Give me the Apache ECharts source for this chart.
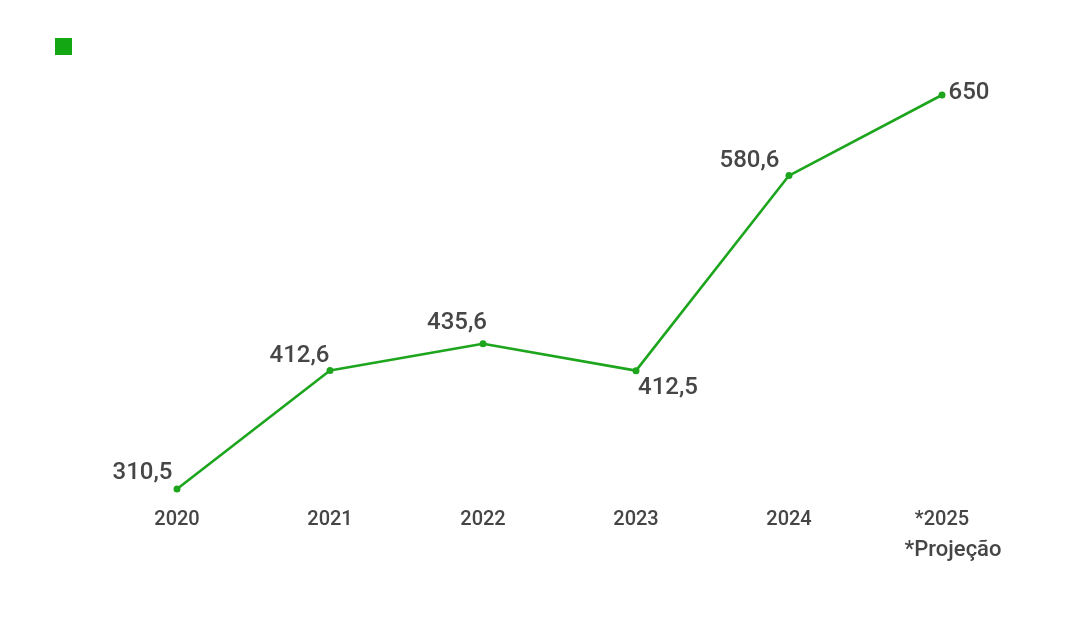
<!DOCTYPE html>
<html>
<head>
<meta charset="utf-8">
<script src="https://cdn.jsdelivr.net/npm/echarts@6/dist/echarts.min.js"></script>
<style>
html,body{margin:0;padding:0;background:#fff;}
#c{width:1083px;height:643px;}
</style>
</head>
<body>
<div id="c"></div>
<script>
const categories = ['2020', '2021', '2022', '2023', '2024', '*2025'];
const values = [310.5, 412.6, 435.6, 412.5, 580.6, 650];
const valueLabels = ['310,5', '412,6', '435,6', '412,5', '580,6', '650'];
const footnote = '*Projeção';

const labelPlacement = [
  { position: 'left', offset: [4, -16] },
  { position: 'left', offset: [8, -15] },
  { position: 'top', offset: [-26, 0] },
  { position: 'bottom', offset: [32, -3] },
  { position: 'left', offset: [-1, -15] },
  { position: 'right', offset: [-2, -2] }
];

const green = '#1ea51e';
const chart = echarts.init(document.getElementById('c'));
chart.setOption({
  backgroundColor: '#ffffff',
  animation: false,
  textStyle: { fontFamily: 'Roboto' },
  legend: {
    left: 50, top: 33, itemWidth: 17, itemHeight: 17, icon: 'rect',
    data: [' '],
    textStyle: { fontSize: 1, color: '#fff' },
    itemStyle: { color: '#13a813' }
  },
  grid: { left: 177, right: 141, top: 83.4, bottom: 141.8 },
  xAxis: {
    type: 'category',
    boundaryGap: false,
    data: categories,
    axisLine: { show: false },
    axisTick: { show: false },
    splitLine: { show: false },
    axisLabel: {
      margin: 4,
      fontSize: 20,
      fontWeight: 500,
      color: '#454545',
      fontFamily: 'Roboto',
      lineHeight: 30,
      formatter: function (v, i) {
        return i === categories.length - 1 ? v + '\n{p|' + footnote + '}' : v;
      },
      rich: {
        p: { fontSize: 22, fontWeight: 500, color: '#454545', fontFamily: 'Roboto', lineHeight: 30, padding: [0, 0, 0, 22] }
      }
    }
  },
  yAxis: {
    type: 'value',
    min: 300,
    max: 660,
    show: false
  },
  series: [{
    name: ' ',
    type: 'line',
    data: values.map((v, i) => ({
      value: v,
      label: {
        show: true,
        position: labelPlacement[i].position,
        offset: labelPlacement[i].offset,
        formatter: valueLabels[i]
      }
    })),
    color: green,
    symbol: 'circle',
    symbolSize: 7,
    lineStyle: { width: 2.6, color: green },
    itemStyle: { color: green },
    label: {
      fontSize: 24,
      fontWeight: 500,
      color: '#464646',
      fontFamily: 'Roboto',
      distance: 5
    }
  }]
});
</script>
</body>
</html>
